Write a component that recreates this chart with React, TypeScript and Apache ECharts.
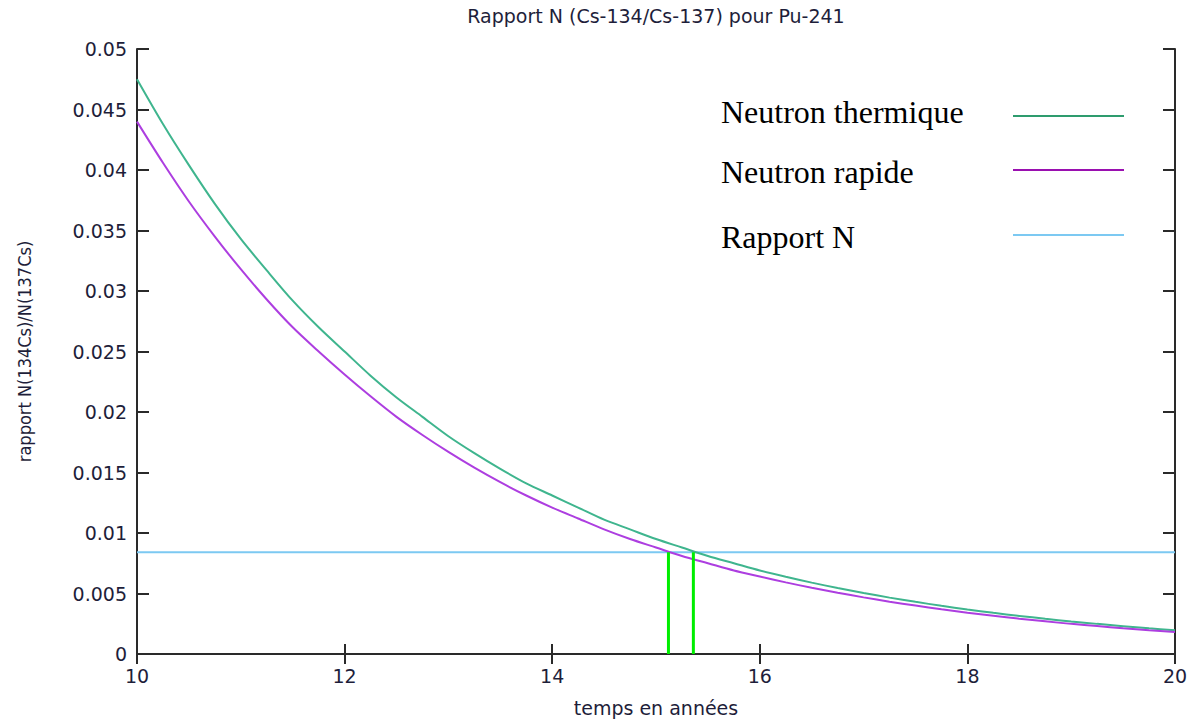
import React, { useEffect, useRef } from "react";
import * as echarts from "echarts";

// Time axis (years, quarter steps) and the two Cs-134/Cs-137 ratio curves
const years = [
  10, 10.25, 10.5, 10.75, 11, 11.25, 11.5, 11.75, 12, 12.25, 12.5, 12.75, 13, 13.25, 13.5, 13.75,
  14, 14.25, 14.5, 14.75, 15, 15.25, 15.5, 15.75, 16, 16.25, 16.5, 16.75, 17, 17.25, 17.5, 17.75,
  18, 18.25, 18.5, 18.75, 19, 19.25, 19.5, 19.75, 20,
];
const thermique = [
  0.0475, 0.0438, 0.0404, 0.0372, 0.0343, 0.0317, 0.0292, 0.027, 0.025, 0.023, 0.0212, 0.0196, 0.018, 0.0166, 0.0153, 0.0141,
  0.0131, 0.0121, 0.0111, 0.0103, 0.0095, 0.0088, 0.0081, 0.0075, 0.0069, 0.00638, 0.0059, 0.00545, 0.00504, 0.00466, 0.00431, 0.00398,
  0.00368, 0.0034, 0.00315, 0.00291, 0.00269, 0.00249, 0.0023, 0.00212, 0.00196,
];
const rapide = [
  0.044, 0.0406, 0.0374, 0.0345, 0.0318, 0.0293, 0.027, 0.025, 0.0231, 0.0213, 0.0196, 0.0181, 0.0167, 0.0154, 0.0142, 0.0131,
  0.0121, 0.0112, 0.0103, 0.0095, 0.0088, 0.0081, 0.0075, 0.0069, 0.0064, 0.00592, 0.00547, 0.00506, 0.00468, 0.00432, 0.004, 0.00369,
  0.00341, 0.00316, 0.00292, 0.0027, 0.00249, 0.00231, 0.00213, 0.00197, 0.00182,
];

// Measured ratio and the times where each curve reaches it
const rapportN = 0.0084;
const crossingYears = [15.12, 15.36];

const xRange = [10, 20];
const yRange = [0, 0.05];

const legendItems = [
  { name: "Neutron thermique", color: "#2e9c6e" },
  { name: "Neutron rapide", color: "#9a10b0" },
  { name: "Rapport N", color: "#7cc9f2" },
];

const sansFamily = "DejaVu Sans, Verdana, sans-serif";
const inkColor = "#1e1e3a";
const tickFont = { fontFamily: sansFamily, fontSize: 19, color: inkColor };

export default function App() {
  const ref = useRef<HTMLDivElement>(null);

  useEffect(() => {
    if (!ref.current) return;
    const chart = echarts.init(ref.current, null, { renderer: "svg" });

    const axisLine = { show: true, lineStyle: { color: "#2a2a2a", width: 2 } };
    const tickStyle = { show: true, inside: true, length: 12, lineStyle: { color: "#2a2a2a", width: 2 } };

    const pairs = (vals: number[]) => years.map((t, i) => [t, vals[i]]);

    chart.setOption({
      animation: false,
      backgroundColor: "#ffffff",
      grid: { left: 137, right: 22, top: 49, bottom: 67, containLabel: false },
      xAxis: [
        {
          type: "value",
          min: xRange[0],
          max: xRange[1],
          interval: 2,
          name: "temps en années",
          nameLocation: "middle",
          nameGap: 44,
          nameTextStyle: { fontFamily: sansFamily, fontSize: 19, color: inkColor },
          axisLine,
          axisTick: { ...tickStyle, length: 10 },
          axisLabel: { ...tickFont, margin: 12 },
          splitLine: { show: false },
        },
        {
          type: "value",
          position: "top",
          min: xRange[0],
          max: xRange[1],
          interval: 2,
          axisLine,
          axisTick: { ...tickStyle, length: 10 },
          axisLabel: { show: false },
          splitLine: { show: false },
        },
      ],
      yAxis: [
        {
          type: "value",
          min: yRange[0],
          max: yRange[1],
          interval: 0.005,
          name: "rapport N(134Cs)/N(137Cs)",
          nameLocation: "middle",
          nameRotate: 90,
          nameGap: 104,
          nameTextStyle: { fontFamily: "Liberation Sans Narrow, DejaVu Sans Condensed, Arial Narrow, sans-serif", fontSize: 18, color: inkColor },
          axisLine,
          axisTick: tickStyle,
          axisLabel: { ...tickFont, margin: 10 },
          splitLine: { show: false },
        },
        {
          type: "value",
          position: "right",
          min: yRange[0],
          max: yRange[1],
          interval: 0.005,
          axisLine,
          axisTick: tickStyle,
          axisLabel: { show: false },
          splitLine: { show: false },
        },
      ],
      series: [
        {
          name: "Neutron thermique",
          type: "line",
          data: pairs(thermique),
          smooth: 0.3,
          showSymbol: false,
          lineStyle: { color: "#3fb58e", width: 2 },
          z: 3,
        },
        {
          name: "Neutron rapide",
          type: "line",
          data: pairs(rapide),
          smooth: 0.3,
          showSymbol: false,
          lineStyle: { color: "#ad3ee0", width: 2 },
          z: 3,
        },
        {
          name: "Rapport N",
          type: "line",
          data: [[xRange[0], rapportN], [xRange[1], rapportN]],
          showSymbol: false,
          lineStyle: { color: "#7cc9f2", width: 2 },
          z: 2,
        },
        ...crossingYears.map((t) => ({
          name: "intersection " + t,
          type: "line",
          data: [[t, 0], [t, rapportN]],
          showSymbol: false,
          lineStyle: { color: "#00ee00", width: 3 },
          z: 4,
        })),
      ],
      graphic: [
        {
          type: "text",
          x: 656,
          y: 16,
          style: {
            text: "Rapport N (Cs-134/Cs-137) pour Pu-241",
            fontFamily: sansFamily,
            fontSize: 19,
            fill: inkColor,
            align: "center",
            verticalAlign: "middle",
          },
        },
        ...legendItems.flatMap((item, i) => {
          const textY = [112, 172, 237][i];
          const lineY = [116, 170, 235][i];
          return [
            {
              type: "text",
              x: 721,
              y: textY,
              style: {
                text: item.name,
                fontFamily: "Liberation Serif, Times New Roman, serif",
                fontSize: 32,
                fill: "#000000",
                align: "left",
                verticalAlign: "middle",
              },
            },
            {
              type: "line",
              shape: { x1: 1013, y1: lineY, x2: 1124, y2: lineY },
              style: { stroke: item.color, lineWidth: 2 },
            },
          ];
        }),
      ],
    });

    return () => chart.dispose();
  }, []);

  return (
    <div
      ref={ref}
      style={{ position: "fixed", left: 0, top: 0, width: 1197, height: 722, background: "#fff" }}
    />
  );
}
